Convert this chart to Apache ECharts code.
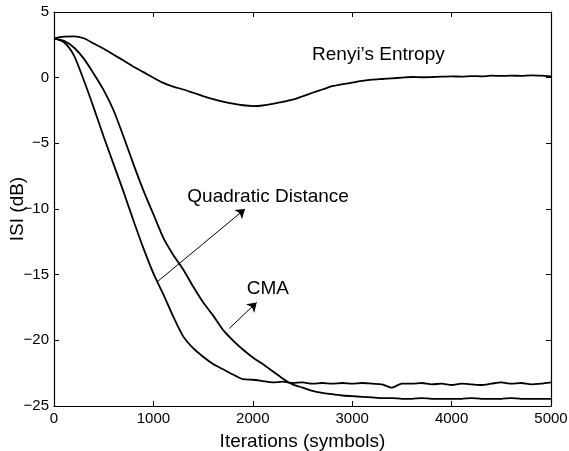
<!DOCTYPE html>
<html>
<head>
<meta charset="utf-8">
<script src="https://cdn.jsdelivr.net/npm/echarts@6/dist/echarts.min.js"></script>
<style>
html,body{margin:0;padding:0;background:#fff;}
#chart{width:569px;height:451px;}
</style>
</head>
<body>
<div id="chart"></div>
<script>
var iterations = [0,100,200,300,400,500,600,700,800,900,1000,1100,1200,1300,1400,1500,1600,1700,1800,1900,2000,2100,2200,2300,2400,2500,2600,2700,2800,2900,3000,3100,3200,3300,3400,3500,3600,3700,3800,3900,4000,4100,4200,4300,4400,4500,4600,4700,4800,4900,5000];
var renyi = [3.0,3.12,3.15,3.0,2.6,2.2,1.75,1.3,0.83,0.42,0.0,-0.4,-0.68,-0.9,-1.15,-1.4,-1.63,-1.83,-1.98,-2.1,-2.16,-2.12,-2.0,-1.84,-1.68,-1.42,-1.15,-0.9,-0.65,-0.5,-0.38,-0.25,-0.15,-0.1,-0.05,0.0,0.05,0.03,0.05,0.08,0.1,0.08,0.12,0.1,0.15,0.13,0.15,0.14,0.18,0.15,0.1];
var quadDist = [3.0,2.7,1.7,-0.2,-2.3,-4.5,-6.6,-8.7,-10.9,-13.0,-14.9,-16.5,-18.2,-19.7,-20.6,-21.25,-21.8,-22.2,-22.6,-22.95,-23.0,-23.1,-23.2,-23.15,-23.25,-23.2,-23.3,-23.25,-23.3,-23.25,-23.3,-23.25,-23.3,-23.35,-23.6,-23.3,-23.3,-23.25,-23.35,-23.3,-23.4,-23.3,-23.35,-23.4,-23.3,-23.2,-23.3,-23.25,-23.35,-23.3,-23.2];
var cma = [3.0,2.8,2.3,1.45,0.3,-0.95,-2.5,-4.5,-6.6,-8.6,-10.4,-12.2,-13.5,-14.6,-15.9,-17.1,-18.1,-19.2,-20.0,-20.7,-21.3,-21.8,-22.35,-22.9,-23.35,-23.6,-23.85,-24.0,-24.1,-24.2,-24.25,-24.3,-24.35,-24.4,-24.4,-24.45,-24.45,-24.4,-24.45,-24.45,-24.45,-24.45,-24.4,-24.45,-24.45,-24.45,-24.4,-24.45,-24.45,-24.45,-24.45];
var xTicks = [0,1000,2000,3000,4000,5000];
var yTicks = [-25,-20,-15,-10,-5,0,5];
var annotationTexts = ["Renyi\u2019s Entropy","Quadratic Distance","CMA"];
var annotationPos = [[2596,1.75],[1341,-9.1],[1939,-16.1]];
var arrowQD = [[1039,-15.54],[1922,-10.0]];
var arrowCMA = [[1764,-19.09],[2039,-17.11]];

function zip(xs, ys){ return xs.map(function(x,i){ return [x, ys[i]]; }); }
function fmt(v){ return String(v).replace('-', '\u2212'); }

var FONT = 'Liberation Sans, Arial, Helvetica, sans-serif';
var axisCommon = {
  axisLine: {show: true, onZero: false, lineStyle: {color: '#000', width: 1.2}},
  axisTick: {show: true, inside: true, length: 5, lineStyle: {color: '#000', width: 1}},
  splitLine: {show: false}
};
function lineSeries(name, data){
  return {
    name: name, type: 'line', data: zip(iterations, data),
    showSymbol: false, symbol: 'none', smooth: 0.25,
    lineStyle: {color: '#000', width: 1.8},
    silent: true, animation: false
  };
}

var chart = echarts.init(document.getElementById('chart'), null, {renderer: 'canvas'});
var seriesList = [
  lineSeries('Renyi', renyi),
  lineSeries('Quadratic Distance', quadDist),
  lineSeries('CMA', cma)
];
seriesList.push({
  type: 'line', data: [], silent: true, animation: false,
  markLine: {
    silent: true, animation: false,
    symbol: ['none', 'arrow'], symbolSize: 9,
    label: {show: false},
    itemStyle: {color: '#000'},
    lineStyle: {color: '#000', width: 1, type: 'solid'},
    emphasis: {disabled: true},
    data: [
      [{coord: arrowQD[0]}, {coord: arrowQD[1]}],
      [{coord: arrowCMA[0]}, {coord: arrowCMA[1]}]
    ]
  },
  markPoint: {
    silent: true, animation: false,
    symbol: 'circle', symbolSize: 0,
    itemStyle: {color: 'rgba(0,0,0,0)'},
    label: {show: true, position: 'right', distance: 0, color: '#000', fontSize: 19, fontFamily: FONT,
      formatter: function(p){ return p.name; }},
    data: annotationTexts.map(function(t, i){ return {name: t, coord: annotationPos[i]}; })
  }
});

chart.setOption({
  animation: false,
  backgroundColor: '#fff',
  grid: {left: 54, right: 18, top: 12, bottom: 45, containLabel: false, outerBoundsMode: 'none'},
  xAxis: [
    Object.assign({type: 'value', position: 'bottom', min: 0, max: 5000, interval: 1000,
      name: 'Iterations (symbols)', nameLocation: 'middle', nameGap: 26,
      nameTextStyle: {color: '#000', fontSize: 19, fontFamily: FONT},
      axisLabel: {color: '#000', fontSize: 15, fontFamily: FONT, margin: 5,
        formatter: function(v){ return xTicks.indexOf(v) >= 0 ? fmt(v) : ''; }}}, axisCommon),
    Object.assign({type: 'value', position: 'top', min: 0, max: 5000, interval: 1000,
      axisLabel: {show: false}}, axisCommon)
  ],
  yAxis: [
    Object.assign({type: 'value', position: 'left', min: -25, max: 5, interval: 5,
      name: 'ISI (dB)', nameLocation: 'middle', nameGap: 27, nameMoveOverlap: false,
      nameTextStyle: {color: '#000', fontSize: 19, fontFamily: FONT},
      axisLabel: {color: '#000', fontSize: 15, fontFamily: FONT, margin: 5,
        formatter: function(v){ return yTicks.indexOf(v) >= 0 ? fmt(v) : ''; }}}, axisCommon),
    Object.assign({type: 'value', position: 'right', min: -25, max: 5, interval: 5,
      axisLabel: {show: false}}, axisCommon)
  ],
  series: seriesList
});
</script>
</body>
</html>
